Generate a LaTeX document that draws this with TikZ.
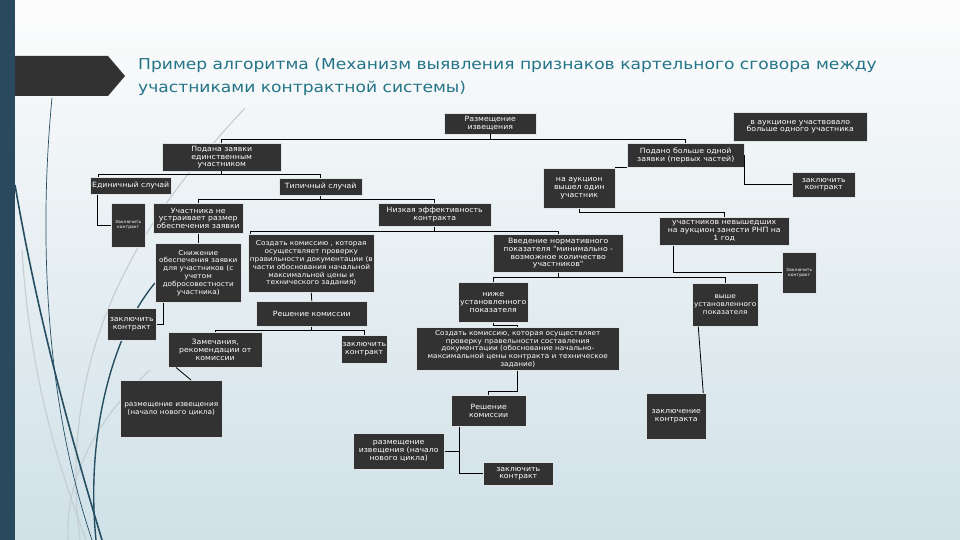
\documentclass[tikz,border=0pt]{standalone}
\usepackage{fontspec}
\setmainfont{DejaVu Sans}
\newfontfamily\boxfont{DejaVu Sans}[FakeStretch=1.08]
\definecolor{boxfill}{RGB}{50,50,50}
\definecolor{boxline}{RGB}{225,228,230}
\definecolor{titlecol}{RGB}{36,116,136}
\definecolor{sidebar}{RGB}{40,74,92}
\definecolor{darkteal}{RGB}{38,78,98}
\definecolor{lightcurve}{RGB}{196,206,210}
\definecolor{bgtop}{RGB}{252,252,252}
\definecolor{bgbot}{RGB}{208,225,232}
\tikzset{
  box/.style={draw=boxline, line width=0.5pt, fill=boxfill, text=white, align=center,
    inner sep=1pt, font=\boxfont\fontsize{7.2}{7.8}\selectfont},
  smallbox/.style={box, inner sep=0pt, font=\boxfont\fontsize{6.8}{7.8}\selectfont},
  tinybox/.style={box, font=\boxfont\fontsize{4.2}{5}\selectfont},
  conn/.style={draw=black, line width=0.8pt},
  deco/.style={line width=1.6pt, draw=darkteal},
  lightdeco/.style={line width=1.1pt, draw=lightcurve}
}
\newcommand\mybox[6][box]{\node[#1, minimum width=#4pt, minimum height=#5pt, anchor=north west] (#2) at (#3) {#6};}
\begin{document}
\begin{tikzpicture}[x=1pt,y=-1pt]
\useasboundingbox (0,0) rectangle (960,540);
\shade[top color=bgtop, bottom color=bgbot] (0,0) rectangle (960,540);
% decorative curves
\draw[lightdeco] (245,108) .. controls (150,210) and (55,340) .. (80,540);
\draw[lightdeco] (150,370) .. controls (95,420) and (65,480) .. (68,540);
\draw[lightdeco] (22,250) .. controls (30,380) and (60,470) .. (86,540);
\draw[deco, line width=0.7pt] (52,98) .. controls (42,200) and (38,380) .. (92,540);
\draw[deco] (15,185) .. controls (40,330) and (75,450) .. (102,540);
\draw[deco, line width=1.4pt] (155,283) .. controls (115,330) and (85,430) .. (96,540);
% sidebar and title arrow
\fill[sidebar] (0,0) rectangle (15,540);
\fill[boxfill] (15,56) -- (108,56) -- (125,76) -- (108,96) -- (15,96) -- cycle;
\node[anchor=base west, inner sep=0, text=titlecol, font=\fontsize{15}{18}\selectfont] (t1) at (138,70)
  {\scalebox{1.14}[1]{Пример алгоритма (Механизм выявления признаков картельного сговора между}};
\node[anchor=base west, inner sep=0, text=titlecol, font=\fontsize{15}{18}\selectfont] (t2) at (138,93)
  {\scalebox{1.14}[1]{участниками контрактной системы)}};
% boxes
\mybox{razm}{444,113}{92}{21}{Размещение\\извещения}
\mybox{auk}{733,112}{134}{29}{в аукционе участвовало\\больше одного участника}
\mybox{bolshe}{627,143}{117}{24}{Подано больше одной\\заявки (первых частей)}
\mybox{odin}{543,168}{72}{40}{на аукцион\\вышел один\\участник}
\mybox{zkone}{792,172}{63}{25}{заключить\\контракт}
\mybox{edinuch}{162,143}{119}{28}{Подана заявки\\единственным\\участником}
\mybox{edinichny}{90,177}{81}{17}{Единичный случай}
\mybox{tipichny}{279,178}{83}{17}{Типичный случай}
\mybox[tinybox]{zksl}{111,203}{34}{44}{Заключить\\контракт}
\mybox{uchastnika}{153,203}{90}{30}{Участника не\\устраивает размер\\обеспечения заявки}
\mybox{nizkaya}{378,203}{113}{23}{Низкая эффективность\\контракта}
\mybox[smallbox]{snizhenie}{155,243}{86}{59}{Снижение\\обеспечения заявки\\для участников (с\\учетом\\добросовестности\\участника)}
\mybox[smallbox]{sozdatone}{248,234}{126}{58}{Создать комиссию , которая\\осуществляет проверку\\правильности документации (в\\части обоснования начальной\\максимальной цены и\\технического задания)}
\mybox{vvedenie}{493,234}{130}{38}{Введение нормативного\\показателя "минимально -\\возможное количество\\участников"}
\mybox{rnp}{659,217}{130}{28}{участников невышедших\\на аукцион занести РНП на\\1 год}
\mybox[tinybox]{zksr}{782,252}{34}{41}{Заключить\\контракт}
\mybox{nizhe}{458,282}{70}{40}{ниже\\установленного\\показателя}
\mybox[smallbox]{vyshe}{692,283}{66}{43}{выше\\установленного\\показателя}
\mybox{zkl}{107,308}{49}{32}{заключить\\контракт}
\mybox{reshone}{256,301}{111}{25}{Решение комиссии}
\mybox{zamech}{168,332}{94}{35}{Замечания,\\рекомендации от\\комиссии}
\mybox{zkmid}{341,335}{43}{28}{заключить\\контракт}
\mybox[smallbox]{razmone}{120,380}{102}{57}{размещение извещения\\(начало нового цикла)}
\mybox[smallbox]{sozdattwo}{416,327}{203}{43}{Создать комиссию, которая осуществляет\\проверку правельности составления\\документации (обоснование начально-\\максимальной цены контракта и техническое\\задание)}
\mybox{reshtwo}{451,395}{75}{31}{Решение\\комиссии}
\mybox{razmtwo}{353,433}{91}{36}{размещение\\извещения (начало\\нового цикла)}
\mybox{zkbot}{483,462}{70}{23}{заключить\\контракт}
\mybox{zakl}{646,393}{60}{46}{заключение\\контракта}
% connectors
\draw[conn] (edinuch.north) -- ++(0,-4) -| (bolshe.north);
\draw[conn] (razm.south) -- (razm.south |- 0,139);
\draw[conn] (bolshe.east) |- (zkone.west);
\draw[conn] (bolshe.south west) -| (odin.north east);
\draw[conn] (edinuch.south) -- (edinuch.south |- 0,174);
\draw[conn] ([xshift=8pt]edinichny.north west) -- ++(0,-3) -| (tipichny.north);
\draw[conn] ([xshift=7pt]edinichny.south west) |- (zksl.west);
\draw[conn] (tipichny.south) -- (tipichny.south |- 0,199);
\draw[conn] (uchastnika.north) -- ++(0,-4) -| (nizkaya.north);
\draw[conn] (uchastnika.south) -- (snizhenie.north);
\draw[conn] ([xshift=8pt]snizhenie.south west) |- (zkl.east);
\draw[conn] (nizkaya.south) -- (nizkaya.south |- 0,231);
\draw[conn] ([xshift=2pt]sozdatone.north west) -- ++(0,-3) -| (vvedenie.north);
\draw[conn] (sozdatone.south) -- (reshone.north);
\draw[conn] (reshone.south) -- (reshone.south |- 0,330);
\draw[conn] (zamech.north) -- ++(0,-2) -| (zkmid.north);
\draw[conn] ([xshift=8pt]zamech.south west) -- ([xshift=71pt]razmone.north west);
\draw[conn] (odin.south) -- ++(0,4) -| (rnp.north);
\draw[conn] ([xshift=14pt]rnp.south west) |- (zksr.west);
\draw[conn] (vvedenie.south) -- (vvedenie.south |- 0,277);
\draw[conn] (nizhe.north) -- ++(0,-5) -| (vyshe.north);
\draw[conn] (nizhe.south) -- ++(0,3) -| (sozdattwo.north);
\draw[conn] (sozdattwo.south) -- ++(0,21) -| (reshtwo.north);
\coordinate (rtv) at ([xshift=8pt]reshtwo.south west);
\draw[conn] (rtv) |- (zkbot.west);
\draw[conn] (razmtwo.east) -- (razmtwo.east -| rtv);
\draw[conn] ([xshift=-27pt]vyshe.south) -- ([xshift=27pt]zakl.north);
\end{tikzpicture}
\end{document}
